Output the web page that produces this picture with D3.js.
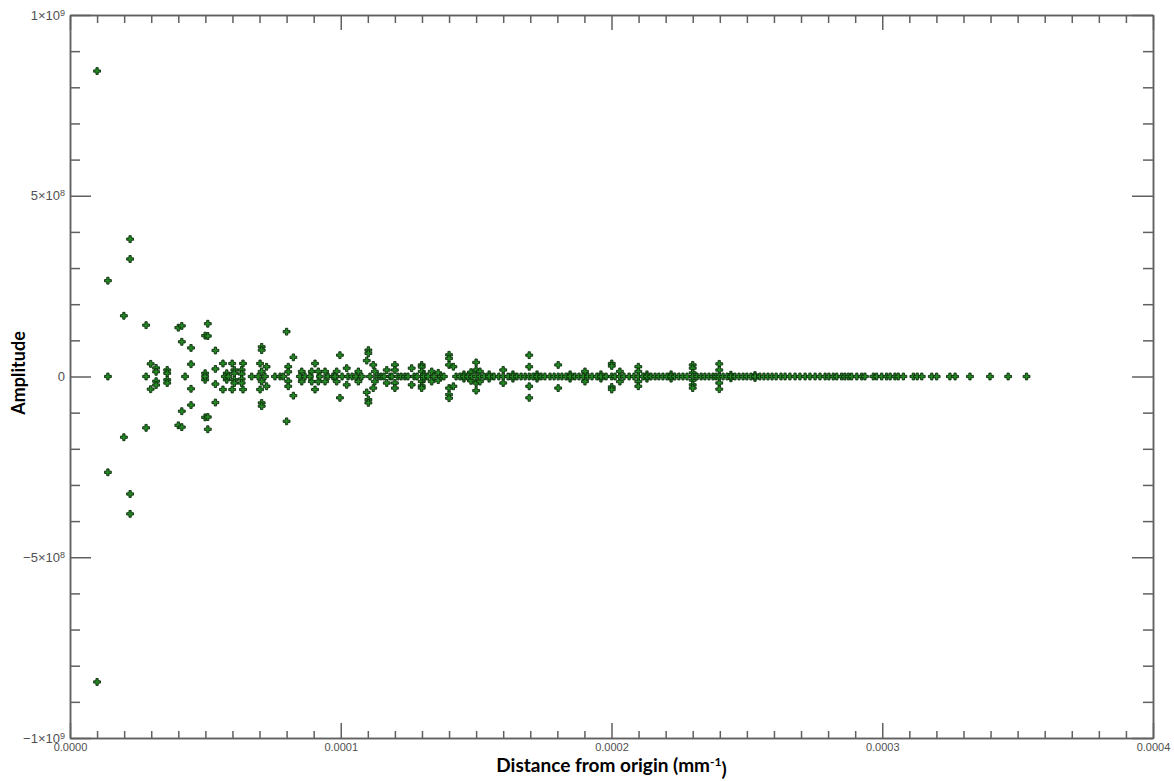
<!DOCTYPE html>
<html>
<head>
<meta charset="utf-8">
<script src="https://cdn.jsdelivr.net/npm/d3@7"></script>
<style>
  body { margin: 0; background: #fff; }
  .axis path, .axis line { stroke: #606060; stroke-width: 1.5; }
  .axis text { font-family: "Liberation Sans", Arial, sans-serif; fill: #505050; }
  .title { font-family: Lato, "Open Sans", sans-serif; font-weight: 700; fill: #000; }
</style>
</head>
<body>
<div id="chart"></div>
<script>
// tick values and their labels
var xMajorTicks = [0, 0.0001, 0.0002, 0.0003, 0.0004];
var yMajorTicks = [-1e9, -5e8, 0, 5e8, 1e9];
var yTickMantissa = ["\u22121\u00d710", "\u22125\u00d710", "0", "5\u00d710", "1\u00d710"];
var yTickExponent = ["9", "8", "", "8", "9"];

// points that sit off the zero line: [distance (mm^-1), amplitude]
var offAxisPoints = [
  [1.00e-5, 8.45e8], [1.00e-5, -8.45e8],
  [1.40e-5, 2.65e8], [1.40e-5, -2.65e8],
  [1.99e-5, 1.68e8], [1.99e-5, -1.68e8],
  [2.22e-5, 3.80e8], [2.22e-5, 3.25e8], [2.22e-5, -3.25e8], [2.22e-5, -3.80e8],
  [2.81e-5, 1.42e8], [2.81e-5, -1.42e8],
  [2.98e-5, 3.5e7], [2.98e-5, -3.5e7],
  [3.18e-5, 2.35e7], [3.18e-5, 1.3e7], [3.18e-5, -1.3e7], [3.18e-5, -2.35e7],
  [3.59e-5, 1.8e7], [3.59e-5, 0.9e7], [3.59e-5, -0.9e7], [3.59e-5, -1.8e7],
  [4.00e-5, 1.35e8], [4.00e-5, -1.35e8],
  [4.13e-5, 1.40e8], [4.13e-5, 0.96e8], [4.13e-5, -0.96e8], [4.13e-5, -1.40e8],
  [4.47e-5, 7.9e7], [4.47e-5, 3.4e7], [4.47e-5, -3.4e7], [4.47e-5, -7.9e7],
  [4.99e-5, 1.13e8], [4.99e-5, 0.9e7], [4.99e-5, -0.9e7], [4.99e-5, -1.13e8],
  [5.09e-5, 1.46e8], [5.09e-5, 1.12e8], [5.09e-5, -1.12e8], [5.09e-5, -1.46e8],
  [5.37e-5, 7.2e7], [5.37e-5, 2.1e7], [5.37e-5, -2.1e7], [5.37e-5, -7.2e7],
  [5.65e-5, 3.6e7], [5.65e-5, -3.6e7],
  [5.79e-5, 0.9e7], [5.79e-5, -0.9e7],
  [5.99e-5, 3.6e7], [5.99e-5, -3.6e7],
  [6.07e-5, 1.8e7], [6.07e-5, 0.9e7], [6.07e-5, -0.9e7], [6.07e-5, -1.8e7],
  [6.34e-5, 1.8e7], [6.34e-5, 0.7e7], [6.34e-5, -0.7e7], [6.34e-5, -1.8e7],
  [6.39e-5, 3.6e7], [6.39e-5, -3.6e7],
  [7.02e-5, 3.6e7], [7.02e-5, -3.6e7],
  [7.08e-5, 8.2e7], [7.08e-5, 7.3e7], [7.08e-5, 1.4e7], [7.08e-5, -1.4e7], [7.08e-5, -7.3e7], [7.08e-5, -8.2e7],
  [7.26e-5, 2.7e7], [7.26e-5, -2.7e7],
  [8.00e-5, 1.24e8], [8.00e-5, -1.24e8],
  [8.06e-5, 2.7e7], [8.06e-5, 1.3e7], [8.06e-5, -1.3e7], [8.06e-5, -2.7e7],
  [8.25e-5, 5.3e7], [8.25e-5, -5.3e7],
  [8.56e-5, 1.4e7], [8.56e-5, -1.4e7],
  [8.93e-5, 1.4e7], [8.93e-5, -1.4e7],
  [9.05e-5, 3.6e7], [9.05e-5, -3.6e7],
  [9.17e-5, 1.4e7], [9.17e-5, -1.4e7],
  [9.42e-5, 1.4e7], [9.42e-5, -1.4e7],
  [9.85e-5, 1.4e7], [9.85e-5, -1.4e7],
  [9.97e-5, 5.9e7], [9.97e-5, -5.9e7],
  [10.22e-5, 2.3e7], [10.22e-5, -2.3e7],
  [10.65e-5, 1.4e7], [10.65e-5, -1.4e7],
  [10.96e-5, 4.4e7], [10.96e-5, -4.4e7],
  [11.02e-5, 7.3e7], [11.02e-5, 6.4e7], [11.02e-5, -6.4e7], [11.02e-5, -7.3e7],
  [11.20e-5, 3.2e7], [11.20e-5, -3.2e7],
  [11.26e-5, 1.4e7], [11.26e-5, -1.4e7],
  [11.70e-5, 1.8e7], [11.70e-5, -1.8e7],
  [12.00e-5, 3.2e7], [12.00e-5, 1.8e7], [12.00e-5, -1.8e7], [12.00e-5, -3.2e7],
  [12.62e-5, 2.3e7], [12.62e-5, -2.3e7],
  [12.99e-5, 3.2e7], [12.99e-5, 2.6e7], [12.99e-5, 1.4e7], [12.99e-5, -1.4e7], [12.99e-5, -2.6e7], [12.99e-5, -3.2e7],
  [13.07e-5, 0.6e7], [13.07e-5, -0.6e7],
  [13.36e-5, 1.4e7], [13.36e-5, -1.4e7],
  [13.60e-5, 1.0e7], [13.60e-5, -1.0e7],
  [14.00e-5, 6.0e7], [14.00e-5, 5.0e7], [14.00e-5, 3.2e7], [14.00e-5, -3.2e7], [14.00e-5, -5.0e7], [14.00e-5, -6.0e7],
  [14.16e-5, 2.7e7], [14.16e-5, -2.7e7],
  [14.55e-5, 0.6e7], [14.55e-5, -0.6e7],
  [14.81e-5, 1.2e7], [14.81e-5, -1.2e7],
  [15.00e-5, 3.9e7], [15.00e-5, 1.8e7], [15.00e-5, -1.8e7], [15.00e-5, -3.9e7],
  [15.14e-5, 1.4e7], [15.14e-5, -1.4e7],
  [15.48e-5, 0.6e7], [15.48e-5, -0.6e7],
  [16.00e-5, 1.8e7], [16.00e-5, -1.8e7],
  [16.36e-5, 0.6e7], [16.36e-5, -0.6e7],
  [16.96e-5, 5.9e7], [16.96e-5, 2.7e7], [16.96e-5, -2.7e7], [16.96e-5, -5.9e7],
  [17.25e-5, 0.6e7], [17.25e-5, -0.6e7],
  [18.03e-5, 3.2e7], [18.03e-5, -3.2e7],
  [18.47e-5, 0.6e7], [18.47e-5, -0.6e7],
  [19.02e-5, 1.4e7], [19.02e-5, -1.4e7],
  [19.61e-5, 0.6e7], [19.61e-5, -0.6e7],
  [20.01e-5, 3.6e7], [20.01e-5, 2.9e7], [20.01e-5, -2.9e7], [20.01e-5, -3.6e7],
  [20.31e-5, 1.4e7], [20.31e-5, -1.4e7],
  [20.99e-5, 2.7e7], [20.99e-5, 1.4e7], [20.99e-5, -1.4e7], [20.99e-5, -2.7e7],
  [21.31e-5, 0.6e7], [21.31e-5, -0.6e7],
  [22.20e-5, 0.6e7], [22.20e-5, -0.6e7],
  [23.00e-5, 3.2e7], [23.00e-5, 2.3e7], [23.00e-5, 1.0e7], [23.00e-5, -1.0e7], [23.00e-5, -2.3e7], [23.00e-5, -3.2e7],
  [23.98e-5, 3.5e7], [23.98e-5, 1.8e7], [23.98e-5, -1.8e7], [23.98e-5, -3.5e7],
  [24.41e-5, 0.5e7], [24.41e-5, -0.5e7],
  [25.30e-5, 0.4e7], [25.30e-5, -0.4e7]
];

// distances (mm^-1) of the points lying on the zero-amplitude line
var onAxisDistances = [
  1.40e-5, 2.81e-5, 4.25e-5, 4.99e-5, 5.72e-5, 5.85e-5, 6.71e-5, 6.95e-5, 7.20e-5,
  7.57e-5, 7.76e-5, 7.88e-5, 8.49e-5, 8.68e-5, 8.86e-5, 9.23e-5, 9.53e-5, 9.71e-5,
  9.79e-5, 10.05e-5, 10.27e-5, 10.42e-5, 10.56e-5, 10.78e-5, 11.08e-5, 11.38e-5,
  11.49e-5, 11.60e-5, 11.82e-5, 11.89e-5, 12.11e-5, 12.23e-5, 12.37e-5, 12.48e-5,
  12.71e-5, 12.82e-5, 13.07e-5, 13.22e-5, 13.44e-5, 13.70e-5, 13.81e-5, 14.26e-5,
  14.40e-5, 14.55e-5, 14.70e-5, 14.85e-5, 15.00e-5, 15.14e-5, 15.29e-5, 15.48e-5,
  15.66e-5, 15.84e-5, 16.00e-5, 16.18e-5, 16.36e-5, 16.51e-5, 16.66e-5, 16.81e-5,
  16.96e-5, 17.10e-5, 17.25e-5, 17.40e-5, 17.54e-5, 17.73e-5, 17.88e-5, 18.03e-5,
  18.17e-5, 18.32e-5, 18.47e-5, 18.65e-5, 18.80e-5, 18.95e-5, 19.13e-5, 19.28e-5,
  19.46e-5, 19.61e-5, 19.80e-5, 20.01e-5, 20.13e-5, 20.31e-5, 20.46e-5, 20.65e-5,
  20.83e-5, 20.99e-5, 21.16e-5, 21.31e-5, 21.46e-5, 21.61e-5, 21.75e-5, 21.90e-5,
  22.05e-5, 22.20e-5, 22.34e-5, 22.49e-5, 22.64e-5, 22.79e-5, 23.00e-5, 23.16e-5,
  23.31e-5, 23.45e-5, 23.60e-5, 23.75e-5, 23.86e-5, 23.98e-5, 24.12e-5, 24.27e-5,
  24.41e-5, 24.56e-5, 24.71e-5, 24.86e-5, 25.00e-5, 25.15e-5, 25.30e-5, 25.48e-5,
  25.63e-5, 25.78e-5, 25.93e-5, 26.08e-5, 26.26e-5, 26.41e-5, 26.59e-5, 26.78e-5,
  26.96e-5, 27.15e-5, 27.33e-5, 27.52e-5, 27.70e-5, 27.89e-5, 28.03e-5, 28.19e-5,
  28.32e-5, 28.50e-5, 28.62e-5, 28.75e-5, 28.87e-5, 29.06e-5, 29.24e-5, 29.36e-5,
  29.67e-5, 29.79e-5, 29.98e-5, 30.16e-5, 30.29e-5, 30.47e-5, 30.59e-5, 30.78e-5,
  31.15e-5, 31.29e-5, 31.46e-5, 31.83e-5, 32.01e-5, 32.50e-5, 32.69e-5, 33.24e-5,
  33.98e-5, 34.65e-5, 35.33e-5
];

var width = 1174;
var height = 781;
var margins = {top: 15, right: 21, bottom: 43, left: 70};

var svg = d3.select('#chart')
  .append('svg')
  .attr('width', width)
  .attr('height', height);

var x = d3.scaleLinear()
  .domain([0, 0.0004])
  .range([margins.left, width - margins.right]);

var y = d3.scaleLinear()
  .domain([-1e9, 1e9])
  .range([height - margins.bottom, margins.top]);

/* minor tick positions: every 1e-5 on x, every 1e8 on y */
var xMinor = d3.range(0, 41).map(function(i) { return i * 1e-5; })
  .filter(function(d, i) { return i % 10 != 0; });
var yMinor = d3.range(-10, 11).map(function(i) { return i * 1e8; })
  .filter(function(d, i) { return (i - 10) % 5 != 0; });

var bottomY = height - margins.bottom;
var rightX = width - margins.right;

// bottom axis
svg.append('g').attr('class', 'axis')
  .attr('transform', 'translate(0,' + bottomY + ')')
  .call(d3.axisBottom(x).tickValues(xMinor).tickSize(-7).tickSizeOuter(0).tickFormat(''));
svg.append('g').attr('class', 'axis')
  .attr('transform', 'translate(0,' + bottomY + ')')
  .attr('font-size', 11)
  .call(d3.axisBottom(x).tickValues(xMajorTicks).tickSize(-15).tickSizeOuter(0).tickPadding(5)
    .tickFormat(d3.format('.4f')))
  .selectAll('text').attr('font-size', 11);

// top axis
svg.append('g').attr('class', 'axis')
  .attr('transform', 'translate(0,' + margins.top + ')')
  .call(d3.axisTop(x).tickValues(xMinor).tickSize(-8).tickSizeOuter(0).tickFormat(''));
svg.append('g').attr('class', 'axis')
  .attr('transform', 'translate(0,' + margins.top + ')')
  .call(d3.axisTop(x).tickValues(xMajorTicks).tickSize(-15).tickSizeOuter(0).tickFormat(''));

// left axis
svg.append('g').attr('class', 'axis')
  .attr('transform', 'translate(' + margins.left + ',0)')
  .call(d3.axisLeft(y).tickValues(yMinor).tickSize(-10).tickSizeOuter(0).tickFormat(''));
var yAxisLeft = svg.append('g').attr('class', 'axis')
  .attr('transform', 'translate(' + margins.left + ',0)')
  .call(d3.axisLeft(y).tickValues(yMajorTicks).tickSize(-21).tickSizeOuter(0).tickPadding(5)
    .tickFormat(''));

// y labels with superscript exponents
yAxisLeft.selectAll('.tick text').each(function(d, i) {
  var t = d3.select(this).attr('font-size', 13);
  t.append('tspan').text(yTickMantissa[i]);
  if (yTickExponent[i] != '') {
    t.append('tspan')
      .attr('dy', '-0.45em')
      .attr('font-size', 9)
      .text(yTickExponent[i]);
  }
});

// right axis
svg.append('g').attr('class', 'axis')
  .attr('transform', 'translate(' + rightX + ',0)')
  .call(d3.axisRight(y).tickValues(yMinor).tickSize(-10).tickSizeOuter(0).tickFormat(''));
svg.append('g').attr('class', 'axis')
  .attr('transform', 'translate(' + rightX + ',0)')
  .call(d3.axisRight(y).tickValues(yMajorTicks).tickSize(-21).tickSizeOuter(0).tickFormat(''));

// the points
var allPoints = offAxisPoints.concat(onAxisDistances.map(function(d) { return [d, 0]; }));
var marker = d3.symbol().type(d3.symbolCross).size(26);

svg.append('g')
  .selectAll('path')
  .data(allPoints)
  .enter()
  .append('path')
  .attr('d', marker)
  .attr('transform', function(d) { return 'translate(' + x(d[0]) + ',' + y(d[1]) + ')'; })
  .attr('fill', '#238a23')
  .attr('stroke', '#0c2c0c')
  .attr('stroke-width', 0.9);

// axis titles
var xTitle = svg.append('text')
  .attr('class', 'title')
  .attr('x', (margins.left + rightX) / 2)
  .attr('y', 772)
  .attr('text-anchor', 'middle')
  .style('font-size', '19px');
xTitle.append('tspan').text('Distance from origin (mm');
xTitle.append('tspan').attr('dy', '-0.5em').style('font-size', '12px').text('-1');
xTitle.append('tspan').attr('dy', '0.5em').text(')');

svg.append('text')
  .attr('class', 'title')
  .attr('transform', 'translate(25,373) rotate(-90)')
  .attr('text-anchor', 'middle')
  .style('font-size', '18px')
  .text('Amplitude');
</script>
</body>
</html>
